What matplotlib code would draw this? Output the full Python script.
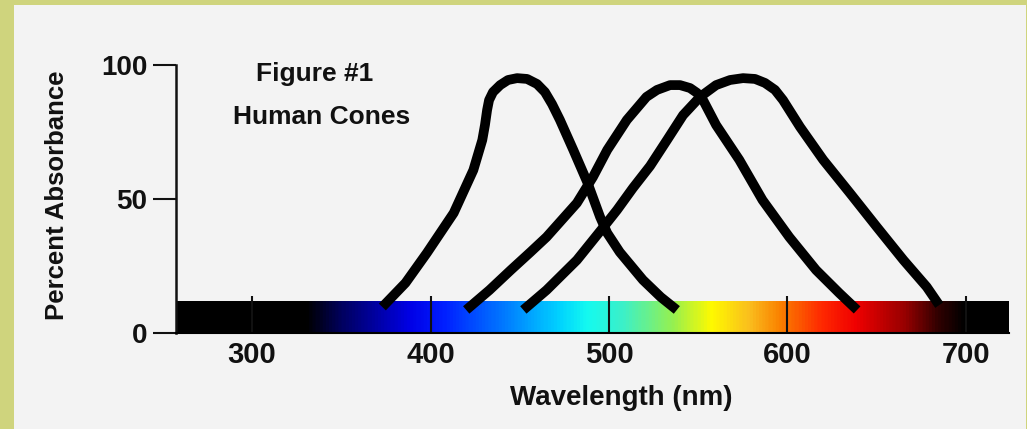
import numpy as np
import matplotlib
matplotlib.use("Agg")
import matplotlib.pyplot as plt
from matplotlib.colors import LinearSegmentedColormap
from matplotlib.patches import Rectangle


# =====================================================
# Data
# =====================================================
# S cone (short wavelength)
s_nm = [373, 386, 398, 413, 424, 429, 430.5, 431.7, 432.8, 435, 439, 443.4,
        448.5, 454.1, 459.7, 464.1, 468.1, 472.5, 480, 488, 495, 499, 506,
        519, 529, 538]
s_pct = [9.7, 18.7, 29.9, 44.8, 60.8, 72.0, 77.6, 83.2, 86.9, 89.9, 92.5, 94.4,
         95.1, 94.8, 92.9, 89.9, 85.4, 79.5, 68.3, 56.0, 43.3, 37.3, 30.2,
         19.8, 13.4, 8.6]

# M cone (medium wavelength)
m_nm = [420, 433, 445, 456, 465, 482, 491, 499, 510, 521, 526.9, 534.2,
        539.8, 545.4, 549.3, 552.7, 560, 573, 586, 601, 616, 629, 639]
m_pct = [8.6, 16.0, 23.5, 30.2, 35.8, 48.5, 58.2, 68.3, 79.5, 88.1, 90.7, 92.5,
         92.5, 91.4, 89.6, 86.9, 77.6, 64.6, 49.6, 35.8, 23.5, 14.9, 8.6]

# L cone (long wavelength)
l_nm = [452, 465, 482, 497, 504.5, 513.4, 523, 532.5, 541.5, 551, 560,
        567.8, 575.1, 581.8, 587.4, 593, 597.5, 607, 620, 635, 650, 665,
        678, 685]
l_pct = [8.6, 16.0, 27.2, 39.6, 45.9, 54.1, 62.3, 72.0, 81.3, 88.1, 92.5,
         94.4, 95.1, 94.8, 93.3, 90.7, 86.9, 76.9, 64.6, 52.2, 39.6, 27.2,
         17.2, 10.4]

x_ticks = [300, 400, 500, 600, 700]
y_ticks = [0, 50, 100]

# spectrum strip under the curves: wavelength stops and their colours
spec_nm = [257, 330, 351, 388, 407, 444, 472, 488, 508, 536, 558,
           579, 596, 620, 639, 667, 685, 700, 725]
spec_rgb = [(0, 0, 0), (0, 0, 0), (0, 0, 100), (0, 0, 230), (0, 30, 255),
            (0, 130, 255), (0, 210, 255), (20, 250, 240), (60, 240, 200),
            (150, 240, 80), (255, 250, 0), (250, 190, 30), (250, 130, 0),
            (255, 40, 0), (240, 0, 0), (150, 0, 0), (50, 0, 0), (0, 0, 0),
            (0, 0, 0)]


# =====================================================
# Figure
# =====================================================
plt.rcParams["font.family"] = ["Liberation Sans", "DejaVu Sans"]
plt.rcParams["font.weight"] = "bold"

olive = "#cfd47d"
panel = "#f3f3f3"
ink = "#111111"

fig = plt.figure(figsize=(10.27, 4.29), dpi=100, facecolor=olive)
fig.patches.append(Rectangle((14 / 1027, 0), 1012 / 1027, 424 / 429,
                             transform=fig.transFigure, facecolor=panel,
                             edgecolor="none", zorder=-10))

ax = fig.add_axes([176 / 1027, 96 / 429, 833 / 1027, 268 / 429])
ax.set_facecolor("none")

xmin, xmax = 257.4, 724.1
ax.set_xlim(xmin, xmax)
ax.set_ylim(0, 100)

# colour strip
lo, hi = spec_nm[0], spec_nm[-1]
cmap = LinearSegmentedColormap.from_list(
    "spectrum",
    [((w - lo) / (hi - lo), tuple(c / 255 for c in rgb))
     for w, rgb in zip(spec_nm, spec_rgb)])
strip = np.linspace(xmin, xmax, 800).reshape(1, -1)
bar_top = 11.6
ax.imshow(strip, extent=[xmin, xmax, 0, bar_top], aspect="auto",
          cmap=cmap, vmin=lo, vmax=hi, zorder=0, interpolation="bilinear")

# cone curves
for nm, pct in [(s_nm, s_pct), (m_nm, m_pct), (l_nm, l_pct)]:
    ax.plot(nm, pct, color="black", linewidth=7,
            solid_joinstyle="round", solid_capstyle="butt", zorder=3)

# axes styling
for side in ["top", "right"]:
    ax.spines[side].set_visible(False)
ax.spines["left"].set_linewidth(1.8)
ax.spines["left"].set_color(ink)
ax.spines["bottom"].set_linewidth(1.5)
ax.spines["bottom"].set_color("black")

ax.set_xticks(x_ticks)
ax.set_yticks(y_ticks)
ax.tick_params(axis="x", direction="in", length=27, width=1.5, color=ink,
               pad=6, labelsize=21, labelcolor=ink)
ax.tick_params(axis="y", direction="out", length=16.5, width=1.5, color=ink,
               pad=4, labelsize=20, labelcolor=ink)

ax.set_xlabel("Wavelength (nm)", fontsize=20, fontweight="bold", color=ink,
              va="center")
ax.xaxis.set_label_coords(0.535, -0.243)
ax.set_ylabel("Percent Absorbance", fontsize=18.5, fontweight="bold",
              color=ink, va="center")
ax.yaxis.set_label_coords(-0.143, 0.515)

ax.text(335, 96.6, "Figure #1", fontsize=19, fontweight="bold", color=ink,
        ha="center", va="center")
ax.text(339, 80.6, "Human Cones", fontsize=19, fontweight="bold", color=ink,
        ha="center", va="center")

fig.savefig("out.png", dpi=100, facecolor=olive)
